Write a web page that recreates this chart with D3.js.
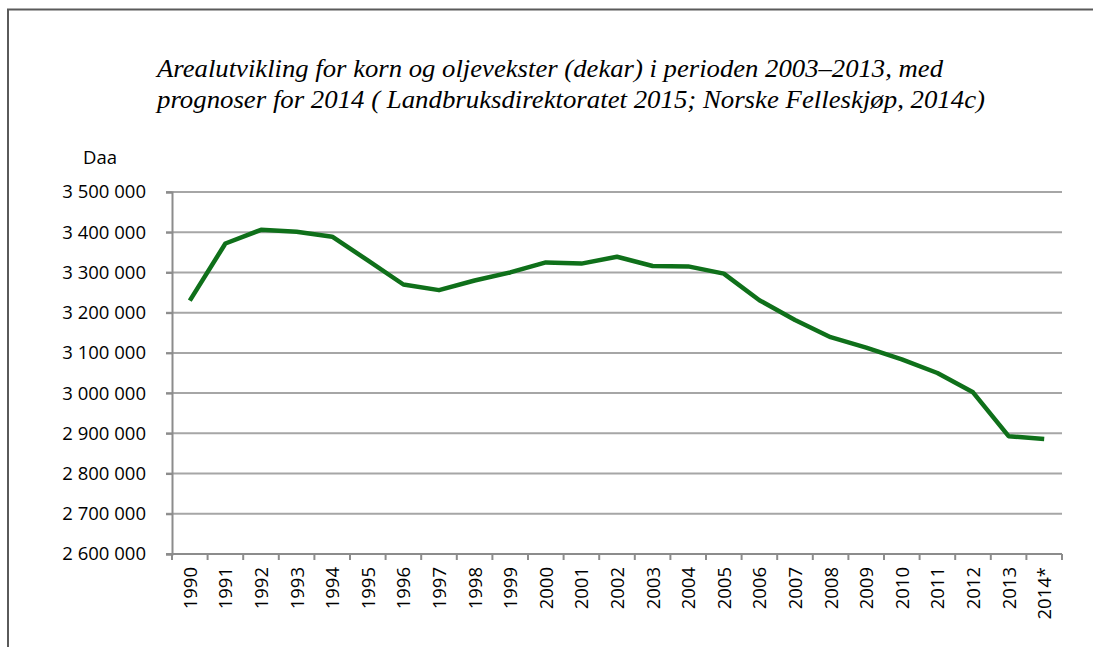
<!DOCTYPE html>
<html>
<head>
<meta charset="utf-8">
<script src="https://cdn.jsdelivr.net/npm/d3@7"></script>
<style>
  body { margin: 0; background: #fff; }
  svg { display: block; }
</style>
</head>
<body>
<div id="chart"></div>
<script>
// data
const years = ["1990", "1991", "1992", "1993", "1994", "1995", "1996", "1997", "1998", "1999",
    "2000", "2001", "2002", "2003", "2004", "2005", "2006", "2007", "2008", "2009",
    "2010", "2011", "2012", "2013", "2014*"];
const areal = [3230000, 3372000, 3406000, 3401000, 3389000, 3330000, 3270000, 3256000, 3280000, 3300000,
    3325000, 3322000, 3339000, 3316000, 3315000, 3297000, 3231000, 3182000, 3139000, 3113000,
    3084000, 3050000, 3002000, 2893000, 2886000];
const yTicks = [2600000, 2700000, 2800000, 2900000, 3000000, 3100000, 3200000, 3300000, 3400000, 3500000];
const titleLines = [
    "Arealutvikling for korn og oljevekster (dekar) i perioden 2003\u20132013, med",
    "prognoser for 2014 ( Landbruksdirektoratet 2015; Norske Felleskjøp, 2014c)"
];

const W = 1093, H = 647;
const margin = {left: 172, right: 31, top: 192, bottom: 93};
const width = W - margin.left - margin.right;
const height = H - margin.top - margin.bottom;

const svg = d3.select("#chart").append("svg")
    .attr("width", W)
    .attr("height", H);

// frame (top and left edge only)
svg.append("path")
    .attr("d", `M8,${H} V9.5 H${W}`)
    .attr("fill", "none")
    .attr("stroke", "#5a5a5a")
    .attr("stroke-width", 2);

// title, squeezed to the widths in the picture
const titleWidths = [786, 828];
svg.append("g").selectAll("text")
    .data(titleLines)
    .enter().append("text")
    .attr("x", 157)
    .attr("y", (d, i) => 77 + i * 31)
    .attr("font-family", "'Liberation Serif', 'DejaVu Serif', serif")
    .attr("font-style", "italic")
    .attr("font-size", 26)
    .attr("fill", "#000")
    .attr("textLength", (d, i) => titleWidths[i])
    .attr("lengthAdjust", "spacingAndGlyphs")
    .text(d => d);

const g = svg.append("g")
    .attr("transform", `translate(${margin.left},${margin.top})`);

const x = d3.scaleBand().domain(years).range([0, width]);
const y = d3.scaleLinear().domain([2600000, 3500000]).range([height, 0]);

const fmt = v => d3.format(",")(v).replace(/,/g, " ");

// gridlines
g.append("g")
    .selectAll("line")
    .data(yTicks.slice(1))
    .enter().append("line")
    .attr("x1", -6)
    .attr("x2", width)
    .attr("y1", d => y(d))
    .attr("y2", d => y(d))
    .attr("stroke", "#a6a6a6")
    .attr("stroke-width", 2);

// y axis
const yAxis = g.append("g")
    .call(d3.axisLeft(y).tickValues(yTicks).tickSize(6).tickPadding(20).tickFormat(fmt));
yAxis.select(".domain").attr("stroke", "#8c8c8c").attr("stroke-width", 2);
yAxis.selectAll(".tick line").attr("stroke", "#8c8c8c").attr("stroke-width", 2);
yAxis.selectAll("text")
    .attr("font-family", "'Open Sans', sans-serif")
    .attr("font-size", 18.5)
    .attr("fill", "#000");

// x axis: ticks at band edges
const xAxis = g.append("g")
    .attr("transform", `translate(0,${height})`);
xAxis.append("line")
    .attr("x1", -6).attr("x2", width)
    .attr("stroke", "#8c8c8c").attr("stroke-width", 2);
xAxis.selectAll(".xt")
    .data(years.concat(["end"]))
    .enter().append("line")
    .attr("class", "xt")
    .attr("x1", (d, i) => i < years.length ? x(d) : width)
    .attr("x2", (d, i) => i < years.length ? x(d) : width)
    .attr("y1", 0).attr("y2", 6)
    .attr("stroke", "#8c8c8c").attr("stroke-width", 2);
xAxis.selectAll(".xl")
    .data(years)
    .enter().append("text")
    .attr("class", "xl")
    .attr("transform", d => `translate(${x(d) + x.bandwidth() / 2 + 7},13) rotate(-90)`)
    .attr("text-anchor", "end")
    .attr("font-family", "'Open Sans', sans-serif")
    .attr("font-size", 18.5)
    .attr("fill", "#000")
    .text(d => d);

// unit label
svg.append("text")
    .attr("x", 83)
    .attr("y", 164)
    .attr("font-family", "'Open Sans', sans-serif")
    .attr("font-size", 18.5)
    .attr("fill", "#000")
    .text("Daa");

// line
const line = d3.line()
    .x((d, i) => x(years[i]) + x.bandwidth() / 2)
    .y(d => y(d));

g.append("path")
    .datum(areal)
    .attr("d", line)
    .attr("fill", "none")
    .attr("stroke", "#0f701a")
    .attr("stroke-width", 4.5)
    .attr("stroke-linejoin", "round");
</script>
</body>
</html>
